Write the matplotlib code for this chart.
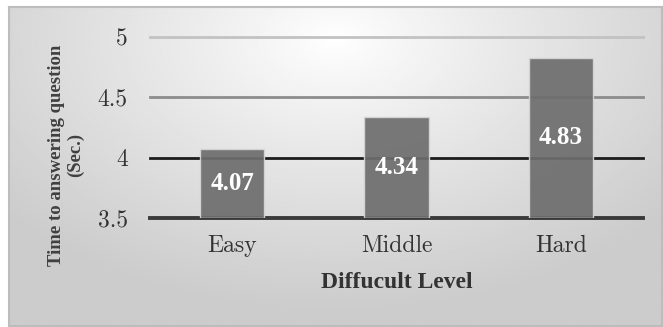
import numpy as np
from matplotlib import pyplot as plt

levels = ['Easy', 'Middle', 'Hard']
times = [4.07, 4.34, 4.83]
yticks = [3.5, 4, 4.5, 5]
ytick_labels = ['3.5', '4', '4.5', '5']
grid_colors = ['#3a3a3a', '#1c1c1c', '#8c8c8c', '#c2c2c2']
grid_widths = [2.8, 2.0, 2.0, 2.0]

W, H = 663, 327
fig = plt.figure(figsize=(W / 100, H / 100), dpi=100)
fig.patch.set_facecolor('white')

# background panel with a soft radial gradient
bg = fig.add_axes([9 / W, 1 / H, (662 - 9) / W, (326 - 7) / H])
yy, xx = np.mgrid[0:1:200j, 0:1:400j]
r = np.sqrt(((xx - 0.5) * 1.3) ** 2 + ((yy - 0.1) * 1.0) ** 2)
r = np.clip(r / 0.85, 0, 1)
shade = 1.0 - 0.2 * r ** 0.9
bg.imshow(shade, cmap='gray', vmin=0, vmax=1, aspect='auto',
          extent=[0, 1, 0, 1], origin='upper')
bg.set_xticks([])
bg.set_yticks([])
for s in bg.spines.values():
    s.set_color('#bdbdbd')
    s.set_linewidth(1.5)

ax = fig.add_axes([150 / W, 1 - 218 / H, 493 / W, 181 / H])
ax.set_facecolor('none')
x = np.arange(len(levels))

for yv, c, lw in zip(yticks, grid_colors, grid_widths):
    ax.axhline(yv, color=c, lw=lw, zorder=1, clip_on=False)

ax.bar(x, [t - 3.5 for t in times], bottom=3.5, width=0.39,
       color='#6e6e6e', alpha=0.93, edgecolor='#d6d6d6', linewidth=1.0, zorder=3)

for xi, t in zip(x, times):
    ax.text(xi, (3.5 + t) / 2, f'{t:.2f}', ha='center', va='center', color='white',
            fontsize=18, fontweight='bold', family='Liberation Serif', zorder=4)

ax.set_xlim(-0.5, 2.5)
ax.set_ylim(3.5, 5)
ax.set_yticks(yticks)
ax.set_yticklabels(ytick_labels, family='cmr10', fontsize=17, color='#333333')
ax.set_xticks(x)
ax.set_xticklabels(levels, family='cmr10', fontsize=17, color='#333333')
ax.tick_params(axis='y', length=0, pad=16)
ax.tick_params(axis='x', length=0, pad=12)
for s in ax.spines.values():
    s.set_visible(False)

fig.text(396.5 / W, 1 - 288 / H, 'Diffucult Level', ha='center', va='baseline',
         fontsize=17, fontweight='bold', family='Liberation Serif', color='#333333')
fig.text(66 / W, 1 - 155 / H, 'Time to answering question\n(Sec.)', ha='center', va='center',
         rotation=90, multialignment='center', fontsize=13.5, fontweight='bold',
         family='Liberation Serif', color='#404040', linespacing=1.15)

fig.savefig('out.png', dpi=100)
